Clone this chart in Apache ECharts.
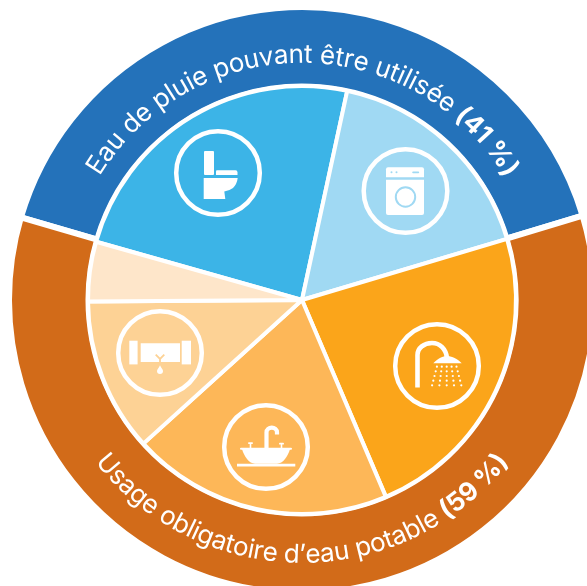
<!DOCTYPE html>
<html>
<head>
<meta charset="utf-8">
<style>
html, body { margin: 0; padding: 0; background: #fff; }
#main { width: 587px; height: 586px; }
</style>
<script src="https://cdn.jsdelivr.net/npm/echarts@6/dist/echarts.min.js"></script>
</head>
<body>
<div id="main"></div>
<script>
/* donnees */
const ringNames = ['Eau de pluie pouvant être utilisée', 'Usage obligatoire d’eau potable'];
const ringValues = [40.8, 59.2];
const ringColors = ['#2472ba', '#d26b19'];

const sliceNames = ['Toilettes', 'Lave-linge', 'Douche', 'Lavabo', 'Fuites', 'Autres'];
const sliceValues = [24, 17, 23.2, 19.7, 11.6, 4.5];
const sliceColors = ['#3cb4e7', '#a0d9f3', '#fba51a', '#fdb758', '#fdd295', '#fee6ca'];

const CX = 302, CY = 300;
const FONT = 'Inter, "Noto Sans", sans-serif';

/* ============================
   TEXTE COURBE
============================ */
const ctx = document.createElement('canvas').getContext('2d');

function texteCourbe(runs, debut, fin, rayon, enBas, size) {
    // largeur de chaque lettre, puis on repartit sur l'arc
    let lettres = [];
    runs.forEach(r => {
        ctx.font = r.weight + ' ' + size + 'px ' + FONT;
        Array.from(r.text).forEach(c => {
            lettres.push({ c: c, w: ctx.measureText(c).width, weight: r.weight });
        });
    });
    const total = lettres.reduce((a, l) => a + l.w, 0);
    const arc = (fin - debut) * Math.PI / 180 * rayon;
    const extra = (arc - total) / (lettres.length - 1);

    let pos = 0;
    const out = [];
    lettres.forEach(l => {
        const a = (debut * Math.PI / 180) + (pos + l.w / 2) / rayon;
        pos += l.w + extra;
        if (l.c === ' ') return;
        out.push({
            type: 'text',
            x: CX + rayon * Math.sin(a),
            y: enBas ? CY + rayon * Math.cos(a) : CY - rayon * Math.cos(a),
            rotation: enBas ? a : -a,
            z: 10,
            style: {
                text: l.c,
                fill: '#fff',
                font: l.weight + ' ' + size + 'px ' + FONT,
                align: 'center',
                verticalAlign: 'middle'
            }
        });
    });
    return out;
}

/* ============================
   ICONES
============================ */
const W = '#fff';
function rect(x, y, w, h, r, fill) {
    return { type: 'rect', shape: { x: x, y: y, width: w, height: h, r: r || 0 }, style: { fill: fill || W } };
}
function path(d, fill) {
    return { type: 'path', shape: { pathData: d }, style: { fill: fill || W } };
}
function trait(d, width, color) {
    return { type: 'path', shape: { pathData: d }, style: { fill: null, stroke: color || W, lineWidth: width } };
}
function rond(x, y, r, fill) {
    return { type: 'circle', shape: { cx: x, cy: y, r: r }, style: { fill: fill || W } };
}

function iconeToilette() {
    return [
        rect(-14, -22, 10, 24, 1),
        path('M-2 2 V-1.5 Q-2 -2.7 -1 -2.7 H17.5 Q19.5 -2.7 19.5 -0.5 V2 Z'),
        path('M-14.3 5 H19.7 Q19 11 15 15 Q11 18 6.3 18.5 L7.3 26 H-14.3 Z')
    ];
}
function iconeLaveLinge() {
    const c = sliceColors[1];
    return [
        rect(-19.5, -23.7, 38, 10, [2, 2, 0, 0]),
        rect(-19.5, -11.3, 38, 35.3, [0, 0, 2, 2]),
        rond(-14, -18.7, 1, c),
        rond(-9, -18.7, 1, c),
        rect(6.7, -19.6, 7, 1.8, 0.9, c),
        { type: 'circle', shape: { cx: 0, cy: 6, r: 9.7 }, style: { fill: W, stroke: c, lineWidth: 2 } }
    ];
}
function iconeDouche() {
    const els = [
        trait('M-19.5 21.5 V-11 C-19.5 -18 -13 -23 -5 -23 C3 -23 9 -17 10 -8', 4.6),
        path('M-3.7 -2.7 C1 -8 6 -10 10 -10 C14 -10 20 -8 24.7 -2.7 Z')
    ];
    [0.7, 5.3, 10, 14.7, 19.3].forEach((y, i) => {
        [-2, -1, 0, 1, 2].forEach(j => {
            els.push(rond(9.7 + j * (4.9 + i * 0.6), y, 1.1));
        });
    });
    return els;
}
function iconeLavabo() {
    return [
        rect(-29, 16.7, 58.3, 2.7),
        rect(-26, 0.7, 52, 2, 1),
        path('M-24 2 H24 C22 9 17 16.7 11 16.7 H-11 C-17 16.7 -22 9 -24 2 Z'),
        trait('M0.5 2 V-14.5 C0.5 -21 11 -21 11 -14.5 V-12.5', 4.2),
        rect(-18, -4.8, 5, 1.8, 0.9),
        rect(-16.3, -4, 1.6, 6),
        rect(13, -4.2, 5, 1.8, 0.9),
        rect(14.7, -3.5, 1.6, 6)
    ];
}
function iconeFuite() {
    const c = sliceColors[4];
    return [
        rect(-30.7, -12.3, 8.3, 23.7),
        rect(21.7, -12.3, 9.3, 23.7),
        rect(-19.3, -9.7, 39.3, 18.7),
        trait('M-4.3 1.7 L0 6 L4.3 1.7 M0 6 V9.5', 1.8, c),
        path('M0 12.3 C1 15 3 16.5 3 18 A3 3 0 0 1 -3 18 C-3 16.5 -1 15 0 12.3 Z')
    ];
}

// [cx, cy, dessin]
const iconPos = [
    [218, 173, iconeToilette],
    [405.5, 191, iconeLaveLinge],
    [437, 366, iconeDouche],
    [266, 447, iconeLavabo],
    [160, 353, iconeFuite]
];

function renderIcone(params, api) {
    const p = iconPos[params.dataIndex];
    return {
        type: 'group',
        x: p[0],
        y: p[1],
        children: [
            { type: 'circle', shape: { cx: 0, cy: 0, r: 41.8 }, style: { fill: null, stroke: W, lineWidth: 4.5 } }
        ].concat(p[2]())
    };
}

/* ============================
   GRAPHIQUE
============================ */
const myChart = echarts.init(document.getElementById('main'), null, { renderer: 'canvas' });

const textes = []
    .concat(texteCourbe(
        [{ text: 'Eau de pluie pouvant être utilisée ', weight: 400 }, { text: '(41 %)', weight: 700 }],
        -58.5, 59, 245, false, 26))
    .concat(texteCourbe(
        [{ text: 'Usage obligatoire d’eau potable ', weight: 400 }, { text: '(59 %)', weight: 700 }],
        -52, 52, 255, true, 26));

myChart.setOption({
    animation: false,
    graphic: { elements: textes },
    series: [
        {
            type: 'pie',
            silent: true,
            center: [CX, CY],
            radius: [213.5, 293],
            startAngle: 163.6,
            label: { show: false },
            labelLine: { show: false },
            itemStyle: { borderColor: '#fff', borderWidth: 6 },
            data: ringNames.map((n, i) => ({ name: n, value: ringValues[i], itemStyle: { color: ringColors[i] } }))
        },
        {
            type: 'pie',
            silent: true,
            center: [CX, CY],
            radius: [0, 214],
            startAngle: 164.2,
            label: { show: false },
            labelLine: { show: false },
            itemStyle: { borderColor: '#fff', borderWidth: 4, borderJoin: 'round' },
            data: sliceNames.map((n, i) => ({ name: n, value: sliceValues[i], itemStyle: { color: sliceColors[i] } }))
        },
        {
            type: 'custom',
            coordinateSystem: 'none',
            silent: true,
            z: 5,
            renderItem: renderIcone,
            data: sliceNames.slice(0, iconPos.length)
        }
    ]
});

window.addEventListener('resize', () => myChart.resize());
</script>
</body>
</html>
